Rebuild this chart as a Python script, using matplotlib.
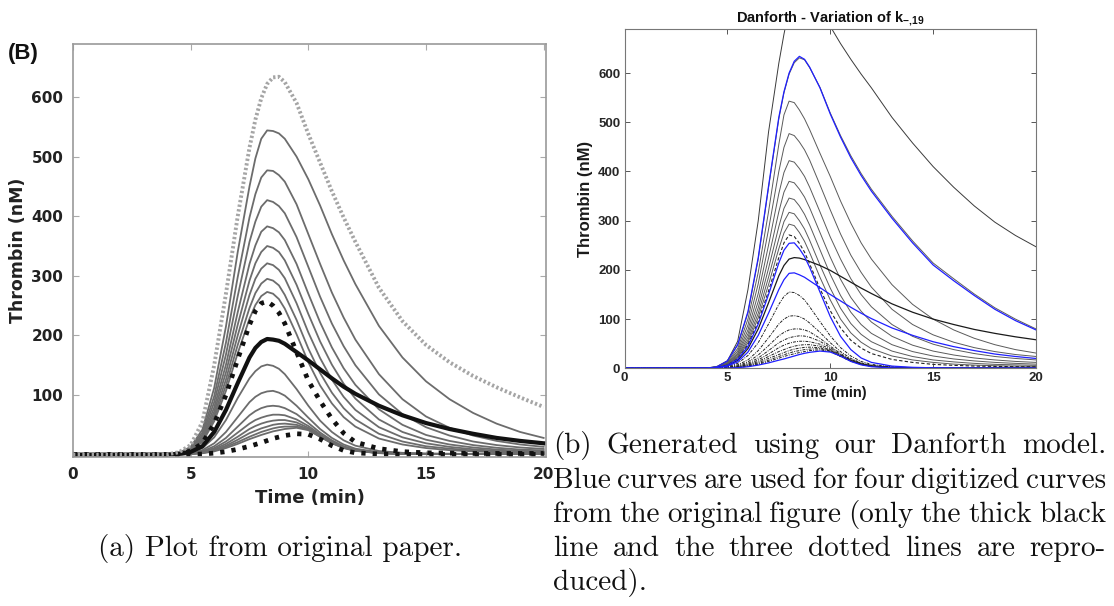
import matplotlib
matplotlib.use("Agg")
import matplotlib.pyplot as plt

plt.rcParams['mathtext.fontset'] = 'custom'
plt.rcParams['mathtext.rm'] = 'Liberation Sans'
plt.rcParams['mathtext.bf'] = 'Liberation Sans:bold'
plt.rcParams['mathtext.it'] = 'Liberation Sans:italic'

# ---------------- data ----------------
time_min = [0, 4, 4.5, 5, 5.5, 6, 6.5, 7, 7.5, 7.75, 8, 8.25, 8.5, 8.75, 9,
            9.5, 10, 10.5, 11, 11.5, 12, 13, 14, 15, 16, 17, 18, 19, 20]

# panel (a): original paper
a_dotted_gray = [0, 0.5, 4, 16, 55, 150, 270, 400, 515, 562, 598, 622, 633, 634, 625, 590, 538, 490, 442, 398, 357, 280, 224, 184, 155, 132, 113, 96, 80]
a_g545 = [0, 0.4, 3, 13, 42, 112, 215, 340, 450, 497, 530, 544, 543, 539, 530, 500, 462, 418, 370, 326, 286, 216, 163, 123, 93, 70, 52, 38, 28]
a_g478 = [0, 0.4, 2.7, 11.5, 37, 98, 188, 298, 398, 437, 465, 477, 476, 469, 458, 420, 370, 320, 272, 230, 193, 135, 93, 64, 45, 32, 23, 17, 13]
a_g427 = [0, 0.3, 2.4, 10, 33, 88, 168, 266, 357, 391, 416, 427, 424, 417, 405, 365, 315, 265, 220, 182, 150, 101, 68, 46, 32, 22, 16, 12, 9.5]
a_g383 = [0, 0.3, 2.2, 9, 30, 79, 151, 239, 320, 351, 374, 383, 380, 373, 360, 320, 270, 222, 180, 145, 117, 76, 50, 33, 23, 16, 11.5, 8.5, 7]
a_g350 = [0, 0.3, 2, 8.3, 27, 72, 138, 218, 292, 321, 340, 350, 347, 340, 326, 285, 236, 190, 151, 119, 94, 59, 38, 25, 17, 12, 8.5, 6.5, 5]
a_g321 = [0, 0.3, 1.9, 7.6, 25, 66, 126, 200, 268, 295, 312, 321, 318, 310, 296, 254, 205, 162, 126, 97, 75, 46, 29, 19, 13, 9, 6.5, 5, 4]
a_g295 = [0, 0.2, 1.8, 7, 23, 61, 116, 184, 246, 271, 287, 295, 292, 284, 268, 226, 178, 137, 104, 78, 59, 35, 22, 14, 10, 7, 5, 4, 3.2]
a_g273 = [0, 0.2, 1.7, 6.5, 21, 56, 107, 170, 228, 251, 266, 273, 270, 261, 245, 202, 155, 116, 86, 63, 47, 27, 17, 11, 7.5, 5.5, 4, 3.2, 2.6]
a_g150 = [0, 0.1, 1, 3.5, 11, 29, 58, 95, 128, 140, 148, 151, 149, 144, 135, 110, 82, 57, 38, 24, 15, 6, 3, 2, 1.5, 1.2, 1, 1, 1]
a_g107 = [0, 0.1, 0.7, 2.5, 7.5, 19, 38, 63, 88, 97, 103, 106, 107, 104, 99, 82, 62, 43, 28, 17, 10, 4, 2, 1.2, 1, 1, 1, 1, 1]
a_g82 = [0, 0.1, 0.5, 2, 5.5, 14, 28, 47, 66, 73, 78, 81, 82, 81, 78, 68, 53, 37, 24, 14, 8, 3, 1.5, 1, 1, 1, 1, 1, 1]
a_g67 = [0, 0.1, 0.4, 1.6, 4.5, 11, 22, 37, 52, 58, 62, 65, 67, 67, 66, 59, 48, 34, 22, 13, 7.5, 3, 1.5, 1, 1, 1, 1, 1, 1]
a_g58 = [0, 0, 0.3, 1.3, 3.7, 9, 18, 30, 43, 48, 52, 55, 57, 58, 58, 54, 45, 32, 21, 12.5, 7, 2.8, 1.4, 1, 1, 1, 1, 1, 1]
a_g52 = [0, 0, 0.3, 1.1, 3.1, 7.5, 15, 25, 36, 40, 44, 47, 50, 51.5, 52, 50, 43, 31, 20, 12, 6.8, 2.7, 1.3, 1, 1, 1, 1, 1, 1]
a_g47 = [0, 0, 0.2, 1, 2.7, 6.5, 13, 21, 30, 34, 38, 41, 44, 46, 47, 47, 42, 30, 19.5, 11.5, 6.5, 2.6, 1.3, 1, 1, 1, 1, 1, 1]
a_g43 = [0, 0, 0.2, 0.9, 2.3, 5.5, 11, 18, 26, 29.5, 33, 36, 39, 41, 43, 45, 41, 30, 19, 11, 6.3, 2.5, 1.2, 1, 1, 1, 1, 1, 1]
a_thick_black = [0, 0.2, 1.2, 4.5, 14, 38, 75, 120, 163, 179, 189, 194, 193, 191, 186, 172, 158, 143, 128, 114, 102, 82, 66, 53, 43, 35, 28, 23, 19]
a_dotted_black_high = [0, 0.2, 1.5, 6, 19, 52, 100, 160, 218, 241, 254, 257, 250, 238, 220, 172, 124, 90, 60, 36, 21, 10, 5, 3, 2.5, 2, 2, 2, 2]
a_dotted_black_low = [0, 0, 0.1, 0.4, 1, 2.5, 5, 9, 14, 17, 20, 23.5, 27, 29.5, 32, 35, 34, 26, 15, 7, 3, 1, 0.5, 0.3, 0.3, 0.3, 0.3, 0.3, 0.3]

# panel (b): Danforth model
b_thin_black = [0, 0.5, 4, 15, 55, 160, 300, 480, 620, 679, 730, 774, 810, 827, 830, 780, 695, 660, 628, 598, 570, 510, 458, 410, 368, 330, 297, 270, 247]
b_blue_top = [0, 0.3, 3, 15, 48, 115, 225, 370, 510, 562, 600, 624, 634, 628, 612, 570, 517, 470, 428, 392, 360, 305, 255, 210, 178, 148, 120, 97, 78]
b_gray_top = [0, 0.3, 3, 15, 47, 113, 222, 367, 507, 560, 598, 621, 631, 627, 611, 571, 519, 473, 432, 396, 364, 309, 259, 214, 182, 151, 123, 100, 80]
b_g544 = [0, 0.3, 3, 13, 40, 100, 195, 318, 455, 515, 543, 540, 525, 507, 485, 437, 390, 340, 295, 255, 222, 170, 130, 100, 78, 61, 48, 38, 31]
b_g477 = [0, 0.3, 2.5, 11, 35, 88, 172, 282, 400, 449, 477, 473, 460, 444, 423, 373, 322, 273, 230, 195, 165, 120, 89, 68, 53, 42, 34, 28, 24]
b_g422 = [0, 0.3, 2.5, 10, 31, 78, 152, 250, 355, 398, 422, 419, 406, 390, 368, 318, 267, 222, 182, 150, 125, 89, 65, 49, 38, 30, 24, 20, 17]
b_g380 = [0, 0.2, 2, 9, 28, 70, 136, 224, 318, 358, 380, 377, 364, 348, 326, 276, 226, 181, 144, 116, 94, 65, 47, 35, 27, 21, 17, 14, 12]
b_g346 = [0, 0.2, 2, 8, 25, 63, 123, 203, 288, 325, 346, 343, 330, 313, 291, 241, 191, 148, 114, 89, 71, 48, 34, 25, 19, 15, 12, 10, 8.5]
b_g317 = [0, 0.2, 2, 7.5, 23, 57, 112, 185, 263, 298, 317, 314, 300, 283, 260, 210, 163, 122, 91, 69, 54, 35, 24, 17, 13, 10, 8, 7, 6]
b_g293 = [0, 0.2, 1.8, 7, 21, 52, 103, 170, 243, 275, 293, 290, 276, 258, 235, 185, 139, 100, 72, 53, 40, 25, 17, 12, 8.5, 6.5, 5.2, 4.5, 4]
b_dash271 = [0, 0.2, 1.7, 6.5, 19, 48, 95, 157, 225, 255, 271, 268, 254, 236, 212, 162, 117, 82, 57, 41, 30, 18, 12, 8, 6, 4.5, 3.8, 3.3, 3]
b_blue256 = [0, 0.2, 1.5, 6, 18, 45, 90, 150, 214, 240, 254, 255, 243, 227, 205, 155, 105, 65, 38, 21, 12, 4.5, 2, 1, 0.6, 0.4, 0.3, 0.2, 0.2]
b_black225 = [0, 0.2, 1.5, 5.5, 16, 40, 80, 133, 188, 209, 222, 225, 224, 221, 217, 209, 199, 187, 175, 163, 152, 131, 114, 100, 89, 79, 71, 64, 58]
b_blue195 = [0, 0.2, 1.2, 4.5, 13, 33, 67, 112, 160, 180, 193, 194, 190, 185, 178, 164, 150, 137, 124, 112, 101, 82, 67, 54, 44, 36, 29, 24, 20]
b_black156 = [0, 0.1, 1, 3.5, 10, 26, 52, 90, 130, 146, 155, 154, 148, 139, 125, 95, 66, 42, 25, 14, 8, 3, 1.2, 0.6, 0.4, 0.3, 0.2, 0.2, 0.2]
b_black108 = [0, 0.1, 0.7, 2.5, 7, 17, 36, 62, 90, 100, 106, 107, 105, 100, 92, 73, 52, 34, 20, 11, 6, 2, 0.8, 0.4, 0.3, 0.2, 0.2, 0.2, 0.2]
b_black81 = [0, 0.1, 0.5, 2, 5, 13, 27, 46, 66, 73, 78, 80, 80, 78, 74, 61, 45, 30, 18, 10, 5, 1.8, 0.7, 0.4, 0.3, 0.2, 0.2, 0.2, 0.2]
b_black66 = [0, 0.1, 0.4, 1.5, 4, 10, 21, 36, 52, 57.5, 62, 64.5, 66, 65.5, 63, 55, 42, 28, 17, 9.5, 5, 1.6, 0.6, 0.4, 0.3, 0.2, 0.2, 0.2, 0.2]
b_black56 = [0, 0.1, 0.3, 1.2, 3.2, 8, 17, 29, 42, 47, 51, 53.5, 55, 55, 54, 49, 39, 27, 16, 9, 4.6, 1.5, 0.5, 0.3, 0.2, 0.2, 0.2, 0.2, 0.2]
b_black49 = [0, 0.1, 0.3, 1, 2.7, 6.5, 14, 24, 34, 38, 42, 45, 47, 48, 48, 45, 37, 26, 15.5, 8.5, 4.4, 1.4, 0.5, 0.3, 0.2, 0.2, 0.2, 0.2, 0.2]
b_black44 = [0, 0, 0.2, 0.9, 2.3, 5.5, 11.5, 20, 28, 32, 36, 39, 41, 42.5, 43, 42, 36, 25, 15, 8.2, 4.2, 1.4, 0.5, 0.3, 0.2, 0.2, 0.2, 0.2, 0.2]
b_black40 = [0, 0, 0.2, 0.8, 2, 4.7, 9.5, 16.5, 24, 27.5, 31, 34, 36, 38, 39, 40, 35, 24.5, 14.6, 8, 4.1, 1.3, 0.5, 0.3, 0.2, 0.2, 0.2, 0.2, 0.2]
b_black37 = [0, 0, 0.2, 0.7, 1.7, 4, 8, 14, 20.5, 24, 27, 29.5, 32, 34, 36, 37.5, 34, 24, 14.3, 7.8, 4, 1.3, 0.5, 0.3, 0.2, 0.2, 0.2, 0.2, 0.2]
b_blue35 = [0, 0, 0.1, 0.5, 1.3, 3.2, 6.5, 11, 16.5, 19, 22, 25, 28, 30.5, 32.5, 35, 33, 25, 14, 7, 3.2, 1, 0.3, 0.2, 0.2, 0.2, 0.2, 0.2, 0.2]

x_ticks = [0, 5, 10, 15, 20]
a_y_ticks = [100, 200, 300, 400, 500, 600]
b_y_ticks = [0, 100, 200, 300, 400, 500, 600]

title_b = r'Danforth - Variation of k$_{\mathbf{-{,}19}}$'
caption_a = '(a) Plot from original paper.'
caption_b_lines = ['(b) Generated using our Danforth model.',
                   'Blue curves are used for four digitized curves',
                   'from the original figure (only the thick black',
                   'line and the three dotted lines are repro-',
                   'duced).']

# ---------------- figure ----------------
W, H = 1114, 606
fig = plt.figure(figsize=(W / 100, H / 100), dpi=100)
fig.patch.set_facecolor('white')


def rect(l, t, r, b):
    return [l / W, 1 - b / H, (r - l) / W, (b - t) / H]


# ---- panel (a) ----
axA = fig.add_axes(rect(73, 44, 546, 457))
a_gray = [a_g545, a_g478, a_g427, a_g383, a_g350, a_g321, a_g295, a_g273,
          a_g150, a_g107, a_g82, a_g67, a_g58, a_g52, a_g47, a_g43]
for c in a_gray:
    axA.plot(time_min, c, color='#6c6c6c', lw=1.3, solid_joinstyle='round')
axA.plot(time_min, a_thick_black, color='#111111', lw=3.0, solid_joinstyle='round')
axA.plot(time_min, a_dotted_black_high, color='#111111', lw=3.4,
         ls=(0, (0.9, 1.5)))
axA.plot(time_min, a_dotted_black_low, color='#111111', lw=3.4,
         ls=(0, (0.9, 1.5)))
axA.plot(time_min, a_dotted_gray, color='#a5a5a5', lw=2.8,
         ls=(0, (0.6, 0.6)))
axA.set_xlim(0, 20.1)
axA.set_ylim(-4, 689)
axA.set_xticks(x_ticks)
axA.set_yticks(a_y_ticks)
axA.tick_params(direction='in', length=4, width=0.8, color='#aaaaaa',
                top=True, right=True, labelsize=11, labelcolor='#222222', pad=7)
for lab in axA.get_xticklabels() + axA.get_yticklabels():
    lab.set_fontweight('bold')
    lab.set_family('DejaVu Sans')
for s in axA.spines.values():
    s.set_color('#9a9a9a')
    s.set_linewidth(1.2)
axA.set_xlabel('Time (min)', fontsize=13, fontweight='bold', color='#222222',
               labelpad=5)
axA.set_ylabel('Thrombin (nM)', fontsize=12.5, fontweight='bold',
               color='#222222', labelpad=3)
fig.text(8 / W, 1 - 53 / H, '(B)', fontsize=16, fontweight='bold',
         family='Liberation Sans', va='center', ha='left', color='#111111')

# ---- panel (b) ----
axB = fig.add_axes(rect(624.5, 29.3, 1036, 368.3))
thin = dict(color='#5a5a5a', lw=0.7)
axB.plot(time_min, b_thin_black, color='#3a3a3a', lw=0.7)
for c in [b_gray_top, b_g544, b_g477, b_g422, b_g380, b_g346, b_g317, b_g293]:
    axB.plot(time_min, c, **thin)
axB.plot(time_min, b_dash271, color='#222222', lw=0.8, ls=(0, (3, 2)))
for c in [b_black156, b_black108, b_black81, b_black66, b_black56,
          b_black49, b_black44, b_black40, b_black37]:
    axB.plot(time_min, c, color='#222222', lw=0.7, ls=(0, (3, 1.2, 1, 1.2)))
axB.plot(time_min, b_black225, color='#1a1a1a', lw=0.9)
for c in [b_blue_top, b_blue256, b_blue195, b_blue35]:
    axB.plot(time_min, c, color='#1f1fff', lw=0.9)
axB.set_xlim(0, 20)
axB.set_ylim(0, 689)
axB.set_xticks(x_ticks)
axB.set_yticks(b_y_ticks)
axB.tick_params(direction='in', length=3.5, width=0.7, color='#555555',
                top=True, right=True, labelsize=9.5, labelcolor='#262626', pad=3)
for lab in axB.get_xticklabels() + axB.get_yticklabels():
    lab.set_fontweight('bold')
    lab.set_family('Liberation Sans')
for s in axB.spines.values():
    s.set_color('#777777')
    s.set_linewidth(0.8)
axB.set_xlabel('Time (min)', fontsize=10.5, fontweight='bold',
               family='Liberation Sans', color='#1a1a1a', labelpad=1)
axB.set_ylabel('Thrombin (nM)', fontsize=12, fontweight='bold',
               family='Liberation Sans', color='#1a1a1a', labelpad=4)
axB.set_title(title_b, fontsize=10.5, fontweight='bold', family='Liberation Sans',
              color='#111111', pad=5)

# ---- captions (justified, serif) ----
cap_font = dict(family='cmr10', fontsize=21, color='#111111', va='baseline')
fig.text(98 / W, 1 - 556 / H, caption_a, ha='left', **cap_font)

renderer = fig.canvas.get_renderer()
x_left, x_right = 553, 1106
baselines = [453, 488, 522, 556, 590]
for i, (line, yb) in enumerate(zip(caption_b_lines, baselines)):
    words = line.split(' ')
    objs = [fig.text(0, 1 - yb / H, w, ha='left', **cap_font) for w in words]
    widths = [o.get_window_extent(renderer).width for o in objs]
    if i < len(caption_b_lines) - 1 and len(words) > 1:
        gap = (x_right - x_left - sum(widths)) / (len(words) - 1)
    else:
        gap = 7
    x = x_left
    for o, w in zip(objs, widths):
        o.set_x(x / W)
        x += w + gap

fig.savefig('out.png', dpi=100, facecolor='white')
